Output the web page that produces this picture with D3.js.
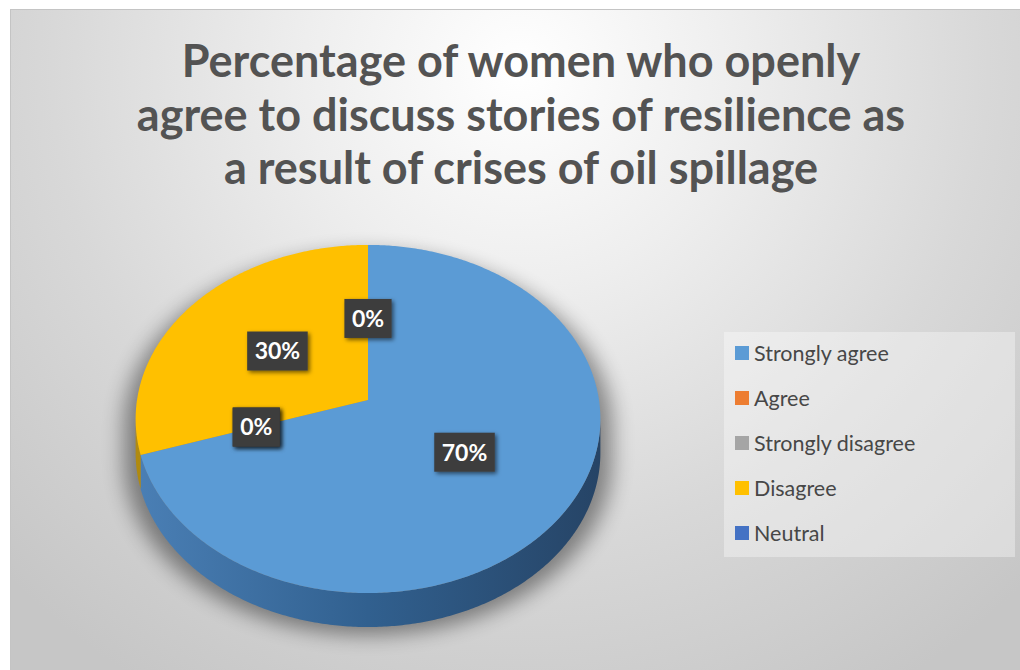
<!DOCTYPE html>
<html>
<head>
<meta charset="utf-8">
<script src="https://cdn.jsdelivr.net/npm/d3@7"></script>
<style>
  html, body { margin: 0; padding: 0; background: #ffffff; }
  svg { display: block; }
</style>
</head>
<body>
<svg id="chart" width="1020" height="670"></svg>
<script>
// Survey responses (percent of women)
const categories = ["Strongly agree", "Agree", "Strongly disagree", "Disagree", "Neutral"];
const values = [70, 0, 0, 30, 0];
const colors = ["#5B9BD5", "#ED7D31", "#A5A5A5", "#FFC000", "#4472C4"];
const sideColors = [["#4a7fb5", "#31608f", "#264466"], ["#b35a20", "#a04f1b", "#803f15"],
                    ["#7a7a7a", "#6a6a6a", "#555555"], ["#b08a10", "#a07a00", "#8a6a00"],
                    ["#2f5597", "#284a84", "#203c6b"]];
const titleLines = ["Percentage of women who openly",
                    "agree to discuss stories of resilience as",
                    "a result of crises of oil spillage"];

const svg = d3.select("#chart");
const defs = svg.append("defs");

// Chart area background: soft radial fade from the top centre
const bg = defs.append("radialGradient").attr("id", "bgGrad")
  .attr("gradientUnits", "userSpaceOnUse")
  .attr("cx", 520).attr("cy", 70).attr("r", 720);
[[0, "#ffffff"], [0.3, "#eeeeee"], [0.65, "#d8d8d8"], [1, "#c6c6c6"]].forEach(([o, c]) =>
  bg.append("stop").attr("offset", o).attr("stop-color", c));

svg.append("rect").attr("x", 10.5).attr("y", 9.5).attr("width", 1012).attr("height", 665)
  .attr("fill", "url(#bgGrad)").attr("stroke", "#c4c4c4").attr("stroke-width", 1);

// Filters
const blur = defs.append("filter").attr("id", "pieShadow")
  .attr("x", "-20%").attr("y", "-20%").attr("width", "140%").attr("height", "140%");
blur.append("feGaussianBlur").attr("stdDeviation", 10);

const lblShadow = defs.append("filter").attr("id", "lblShadow")
  .attr("x", "-30%").attr("y", "-30%").attr("width", "160%").attr("height", "160%");
lblShadow.append("feDropShadow").attr("dx", 2).attr("dy", 2).attr("stdDeviation", 2)
  .attr("flood-color", "#000").attr("flood-opacity", 0.55);

// Title
const title = svg.append("g").attr("font-family", "Lato, 'Open Sans', sans-serif")
  .attr("font-weight", 700).attr("fill", "#535353").attr("text-anchor", "middle");
const titleBase = [77, 131, 184];
titleLines.forEach((t, i) => {
  title.append("text").attr("x", 521).attr("y", titleBase[i]).attr("font-size", 45).text(t);
});

// Perspective projection of the tilted pie disc
const cx = 368, cy = 400, R = 231, RY = 172, K = 0.109, depth = 34;
function proj(theta, f = 1, dz = 0) {
  const u = Math.sin(theta) * f, v = -Math.cos(theta) * f;
  const w = 1 - K * v;
  return [cx + R * u / w, cy + RY * v / w + dz];
}
function arcPoints(a0, a1, f, dz) {
  const n = Math.max(2, Math.ceil(Math.abs(a1 - a0) / 0.01));
  return d3.range(n + 1).map(i => proj(a0 + (a1 - a0) * i / n, f, dz));
}

const pie = d3.pie().sort(null).value(d => d.value);
const data = categories.map((c, i) => ({ name: c, value: values[i], color: colors[i], side: sideColors[i] }));
const arcs = pie(data);

const line = d3.line();
const pieG = svg.append("g");

// Soft shadow behind the disc
const visA = Math.acos(-K), visB = 2 * Math.PI - Math.acos(-K);
pieG.append("path")
  .attr("d", line(arcPoints(visA, visB, 1, depth)
    .concat(arcPoints(visB, 2 * Math.PI + visA, 1, 0))) + "Z")
  .attr("transform", `translate(${cx},${cy + 8}) scale(1.05,1.0) translate(${-cx},${-cy})`)
  .attr("fill", "#000").attr("opacity", 0.42).attr("filter", "url(#pieShadow)");

// Visible front wall of each slice
arcs.forEach((a, i) => {
  const s0 = Math.max(a.startAngle, visA), s1 = Math.min(a.endAngle, visB);
  if (s1 <= s0) return;
  const gid = "side" + i;
  const g = defs.append("linearGradient").attr("id", gid)
    .attr("gradientUnits", "userSpaceOnUse")
    .attr("x1", cx - R).attr("y1", 0).attr("x2", cx + R).attr("y2", 0);
  [[0, a.data.side[0]], [0.5, a.data.side[1]], [1, a.data.side[2]]].forEach(([o, c]) =>
    g.append("stop").attr("offset", o).attr("stop-color", c));
  const pts = arcPoints(s0, s1, 1, 0).concat(arcPoints(s1, s0, 1, depth));
  pieG.append("path").attr("d", line(pts) + "Z").attr("fill", `url(#${gid})`);
});

// Top faces
arcs.forEach(a => {
  if (a.endAngle - a.startAngle <= 0) return;
  const pts = [proj(0, 0)].concat(arcPoints(a.startAngle, a.endAngle, 1, 0));
  pieG.append("path").attr("d", line(pts) + "Z").attr("fill", a.data.color);
});

// Data labels at mid-radius of each slice
const lblG = svg.append("g").attr("font-family", "Lato, 'Open Sans', sans-serif")
  .attr("font-weight", 700).attr("font-size", 23);
arcs.forEach(a => {
  const mid = (a.startAngle + a.endAngle) / 2;
  const [x, y] = proj(mid, 0.5, 0);
  const txt = a.data.value + "%";
  const g = lblG.append("g").attr("transform", `translate(${x},${y})`);
  const r = g.append("rect").attr("fill", "#3d3d3d").attr("filter", "url(#lblShadow)");
  const t = g.append("text").attr("text-anchor", "middle").attr("dy", "0.36em")
    .attr("fill", "#ffffff").text(txt);
  const w = t.node().getComputedTextLength() + 15;
  const h = 39;
  r.attr("x", -w / 2).attr("y", -h / 2).attr("width", w).attr("height", h);
});

// Legend
const legG = svg.append("g").attr("font-family", "Lato, 'Open Sans', sans-serif");
legG.append("rect").attr("x", 724).attr("y", 332).attr("width", 291).attr("height", 225)
  .attr("fill", "#ffffff").attr("opacity", 0.35);
const legY = d3.scalePoint().domain(categories).range([353, 533]);
categories.forEach((c, i) => {
  const y = legY(c);
  legG.append("rect").attr("x", 735).attr("y", y - 7).attr("width", 14).attr("height", 14)
    .attr("fill", colors[i]);
  legG.append("text").attr("x", 754).attr("y", y).attr("dy", "0.35em")
    .attr("font-size", 21.5).attr("fill", "#474747").text(c);
});
</script>
</body>
</html>
